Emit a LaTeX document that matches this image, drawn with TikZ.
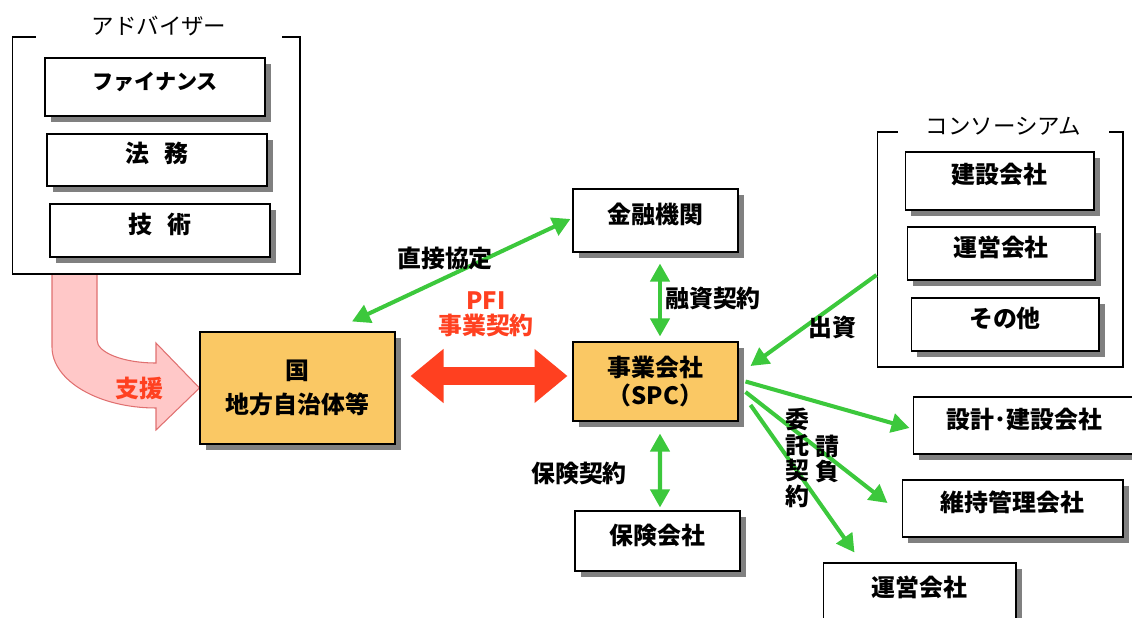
\documentclass[tikz,border=0pt]{standalone}
\usepackage{fontspec}
\setmainfont{Noto Sans CJK JP}
\usetikzlibrary{arrows.meta,positioning,shadows,backgrounds}
\definecolor{orgfill}{HTML}{FAC864}
\definecolor{lgreen}{HTML}{3CC83C}
\definecolor{pfired}{HTML}{FF4020}
\definecolor{supfill}{HTML}{FFC8C8}
\definecolor{supline}{HTML}{E07070}
\tikzset{card/.style={draw,line width=0.6pt,fill=white,inner ysep=0pt,drop shadow={shadow xshift=1.2mm,shadow yshift=-1.2mm,fill=black!50,opacity=1},font=\bfseries\fontsize{13.6}{16}\selectfont},box/.style={card,text height=5mm,text depth=3.8mm},org/.style={card,fill=orgfill,align=center},grp/.style={draw,line width=0.6pt,inner sep=0pt},grptitle/.style={fill=white,inner ysep=1mm,font=\fontsize{12.8}{15}\selectfont},link/.style={draw=lgreen,line width=2.3pt},lbl/.style={font=\bfseries\fontsize{13.6}{16}\selectfont,align=center}}

\begin{document}
\begin{tikzpicture}[x=0.02cm,y=-0.02cm,>={Triangle[length=3.6mm,width=3.8mm]}]
\useasboundingbox (0,0) rectangle (1132,618);
% advisers
\node[grp,minimum width=5.76cm,minimum height=4.74cm] (adv) at (156,155.5) {};
\node[grptitle,inner xsep=1.12cm] (advtitle) at (159,26) {アドバイザー};
\node[box,minimum width=4.4cm,minimum height=1.16cm,font=\bfseries\fontsize{12}{14}\selectfont] (fin) at (155,87) {ファイナンス};
\node[box,minimum width=4.4cm,minimum height=1.04cm] (legal) at (157,160) {法\hspace{0.6em}務};
\node[box,minimum width=4.4cm,minimum height=1.06cm] (tech) at (160,230.5) {技\hspace{0.6em}術};
% public side and SPC
\node[org,minimum width=3.9cm,minimum height=2.24cm] (kuni) at (297.5,388) {国\\[3.8pt]地方自治体等};
\node[box,minimum width=3.3cm,minimum height=1.26cm] (kinyu) at (655.5,220.5) {金融機関};
\node[org,minimum width=3.3cm,minimum height=1.58cm] (spc) at (655.5,381.5) {事業会社\\（SPC）};
\node[box,minimum width=3.3cm,minimum height=1.2cm] (hoken) at (657.5,541) {保険会社};
% consortium
\node[grp,minimum width=4.92cm,minimum height=4.7cm] (cons) at (1000,249.5) {};
\node[grptitle,inner xsep=0.55cm] (constitle) at (1003.5,126) {コンソーシアム};
\node[box,minimum width=3.78cm,minimum height=1.16cm] (kensetsu) at (999.5,181) {建設会社};
\node[box,minimum width=3.76cm,minimum height=1.06cm] (unei) at (1001,253.5) {運営会社};
\node[box,minimum width=3.76cm,minimum height=1.06cm] (sonota) at (1005,324.5) {その他};
% contractors
\node[box,minimum width=4.46cm,minimum height=1.14cm] (sekkei) at (1024.5,425.5) {設計･建設会社};
\node[box,minimum width=4.42cm,minimum height=1.14cm] (iji) at (1012.5,508.5) {維持管理会社};
\node[box,minimum width=3.86cm,minimum height=1.2cm] (unei2) at (919.5,593) {運営会社};
% support arrow
\begin{scope}[on background layer]
\draw[fill=supfill,draw=supline,line width=0.6pt] (52,274) -- (52,347) .. controls (52,380.7) and (98.6,408) .. (156,408) -- (156,430) -- (kuni.west) -- (156,343) -- (156,363) .. controls (123.4,363) and (97,352.7) .. (97,340) -- (97,274) -- cycle;
\end{scope}
\node[lbl,text=pfired] (shien) at (139,388) {支援};
% contracts
\draw[pfired,line width=10.2pt,{Triangle[length=6.6mm,width=10.4mm]}-{Triangle[length=6.6mm,width=10.4mm]}] ([xshift=3mm,yshift=2.4mm]kuni.east) -- ([xshift=-1mm,yshift=1.1mm]spc.west);
\node[lbl,text=pfired,font=\bfseries\fontsize{13.6}{14.2}\selectfont] (pfi) at (486,314.5) {PFI\\事業契約};
\draw[link,<->] ([xshift=1.09cm,yshift=2mm]kuni.north) -- ([xshift=-0.4mm,yshift=0.3mm]kinyu.west);\node[lbl] (direct) at (445,258) {直接協定};
\draw[link,<->] ([xshift=0.9mm,yshift=-2.2mm]kinyu.south) -- ([xshift=0.9mm,yshift=1mm]spc.north);\node[lbl] (loan) at (713,298) {融資契約};
\draw[link,<->] ([xshift=0.9mm,yshift=-2.4mm]spc.south) -- ([xshift=0.5mm,yshift=0.6mm]hoken.north);\node[lbl] (ins) at (579,473) {保険契約};
\draw[link,->] ([yshift=-5.1mm]cons.west) -- ([xshift=2.4mm,yshift=3.1mm]spc.east);\node[lbl] (invest) at (832,327) {出資};
\draw[link,->] ([xshift=1.4mm]spc.east) -- ([xshift=-0.6mm,yshift=-0.5mm]sekkei.west);
\draw[link,->] ([xshift=1.4mm,yshift=-2.1mm]spc.east) -- ([xshift=-2.8mm,yshift=1.1mm]iji.west);
\draw[link,->] ([xshift=2.4mm,yshift=-4.7mm]spc.east) -- ([xshift=6.4mm,yshift=2mm]unei2.north west);
\node[lbl,font=\bfseries\fontsize{13.6}{14.5}\selectfont] (itaku) at (797,458) {委\\託\\契\\約};
\node[lbl,font=\bfseries\fontsize{13.6}{14.5}\selectfont] (ukeoi) at (827,459) {請\\負};
\end{tikzpicture}
\end{document}
